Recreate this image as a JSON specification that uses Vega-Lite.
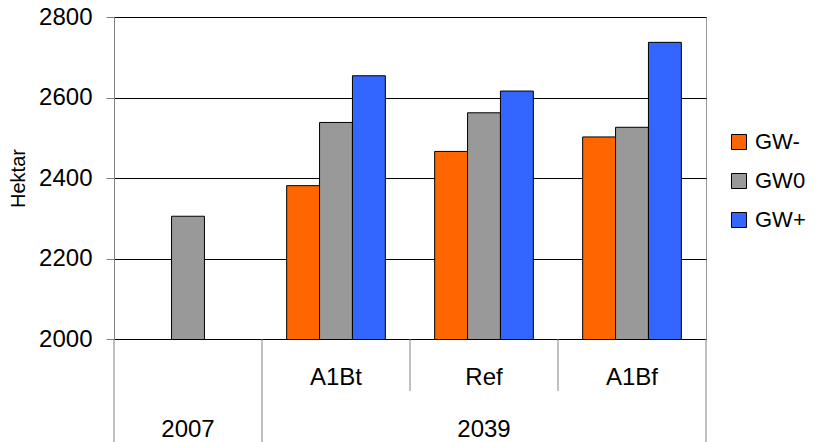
{
  "$schema": "https://vega.github.io/schema/vega-lite/v6.json",
  "padding": {"left": 8, "top": 4, "right": 0, "bottom": 0},
  "spacing": 0,
  "bounds": "flush",
  "config": {"font": "Liberation Sans", "view": {"stroke": null}},
  "datasets": {
    "bars": [
      {"cat": "2007", "series": "GW0", "value": 2305},
      {"cat": "A1Bt", "series": "GW-", "value": 2381},
      {"cat": "A1Bt", "series": "GW0", "value": 2538},
      {"cat": "A1Bt", "series": "GW+", "value": 2654},
      {"cat": "Ref", "series": "GW-", "value": 2466},
      {"cat": "Ref", "series": "GW0", "value": 2562},
      {"cat": "Ref", "series": "GW+", "value": 2616},
      {"cat": "A1Bf", "series": "GW-", "value": 2502},
      {"cat": "A1Bf", "series": "GW0", "value": 2526},
      {"cat": "A1Bf", "series": "GW+", "value": 2737}
    ],
    "labels": [
      {"cat": "A1Bt", "level": "inner", "label": "A1Bt"},
      {"cat": "Ref", "level": "inner", "label": "Ref"},
      {"cat": "A1Bf", "level": "inner", "label": "A1Bf"},
      {"cat": "2007", "level": "outer", "label": "2007"},
      {"cat": "Ref", "level": "outer", "label": "2039"}
    ],
    "seps": [
      {"cat": "2007", "edge": "start", "top": 0, "depth": 2},
      {"cat": "A1Bt", "edge": "start", "top": 0, "depth": 2},
      {"cat": "Ref", "edge": "start", "top": 0, "depth": 1},
      {"cat": "A1Bf", "edge": "start", "top": 0, "depth": 1},
      {"cat": "A1Bf", "edge": "end", "top": 0, "depth": 2}
    ]
  },
  "vconcat": [
    {
      "width": 592,
      "height": 322,
      "view": {"stroke": "#999999"},
      "data": {"name": "bars"},
      "mark": {"type": "bar", "stroke": "#000000", "strokeWidth": 1, "clip": true},
      "encoding": {
        "x": {
          "field": "cat", "type": "nominal",
          "scale": {"domain": ["2007", "A1Bt", "Ref", "A1Bf"], "paddingInner": 0, "paddingOuter": 0},
          "axis": {"labels": false, "ticks": false, "title": null, "domainColor": "#000000", "grid": false, "minExtent": 0, "maxExtent": 0, "offset": 0}
        },
        "xOffset": {
          "field": "series", "type": "nominal",
          "scale": {"domain": ["GW-", "GW0", "GW+"], "paddingInner": 0, "paddingOuter": 0.75}
        },
        "y": {
          "field": "value", "type": "quantitative",
          "scale": {"domain": [2000, 2800], "nice": false, "zero": false},
          "axis": {
            "title": "Hektar",
            "values": [2000, 2200, 2400, 2600, 2800],
            "format": "d",
            "labelFontSize": 24,
            "labelColor": "#000000",
            "titleFontSize": 20,
            "titleFontWeight": "normal",
            "titleColor": "#000000",
            "tickSize": 8,
            "labelPadding": 14,
            "titlePadding": 10,
            "domainColor": "#808080",
            "tickColor": "#808080",
            "gridColor": "#000000"
          }
        },
        "color": {
          "field": "series", "type": "nominal",
          "scale": {"domain": ["GW-", "GW0", "GW+"], "range": ["#FF6600", "#999999", "#3366FF"]},
          "legend": {
            "title": null,
            "orient": "none",
            "legendX": 614,
            "legendY": 114,
            "symbolType": "square",
            "symbolSize": 225,
            "symbolStrokeColor": "#000000",
            "symbolStrokeWidth": 1,
            "labelFontSize": 22,
            "labelColor": "#000000",
            "labelOffset": 5,
            "rowPadding": 17,
            "padding": 0
          }
        }
      }
    },
    {
      "width": 592,
      "height": 104,
      "layer": [
        {
          "data": {"name": "labels"},
          "mark": {"type": "text", "fontSize": 24, "baseline": "alphabetic", "dy": 20, "color": "#000000"},
          "encoding": {
            "x": {
              "field": "cat", "type": "nominal",
              "scale": {"domain": ["2007", "A1Bt", "Ref", "A1Bf"], "paddingInner": 0, "paddingOuter": 0},
              "axis": null
            },
            "y": {
              "field": "level", "type": "nominal",
              "scale": {"domain": ["inner", "outer"], "paddingInner": 0, "paddingOuter": 0},
              "axis": null
            },
            "text": {"field": "label"}
          }
        },
        {
          "data": {"name": "seps"},
          "transform": [{"filter": "datum.edge == 'start'"}],
          "mark": {"type": "rule", "color": "#808080", "strokeWidth": 1},
          "encoding": {
            "x": {"field": "cat", "type": "nominal", "bandPosition": 0, "axis": null},
            "y": {"field": "top", "type": "quantitative", "scale": {"domain": [0, 2], "reverse": true}, "axis": null},
            "y2": {"field": "depth"}
          }
        },
        {
          "data": {"name": "seps"},
          "transform": [{"filter": "datum.edge == 'end'"}],
          "mark": {"type": "rule", "color": "#808080", "strokeWidth": 1},
          "encoding": {
            "x": {"field": "cat", "type": "nominal", "bandPosition": 1, "axis": null},
            "y": {"field": "top", "type": "quantitative", "axis": null},
            "y2": {"field": "depth"}
          }
        }
      ],
      "resolve": {"scale": {"y": "independent"}}
    }
  ]
}
